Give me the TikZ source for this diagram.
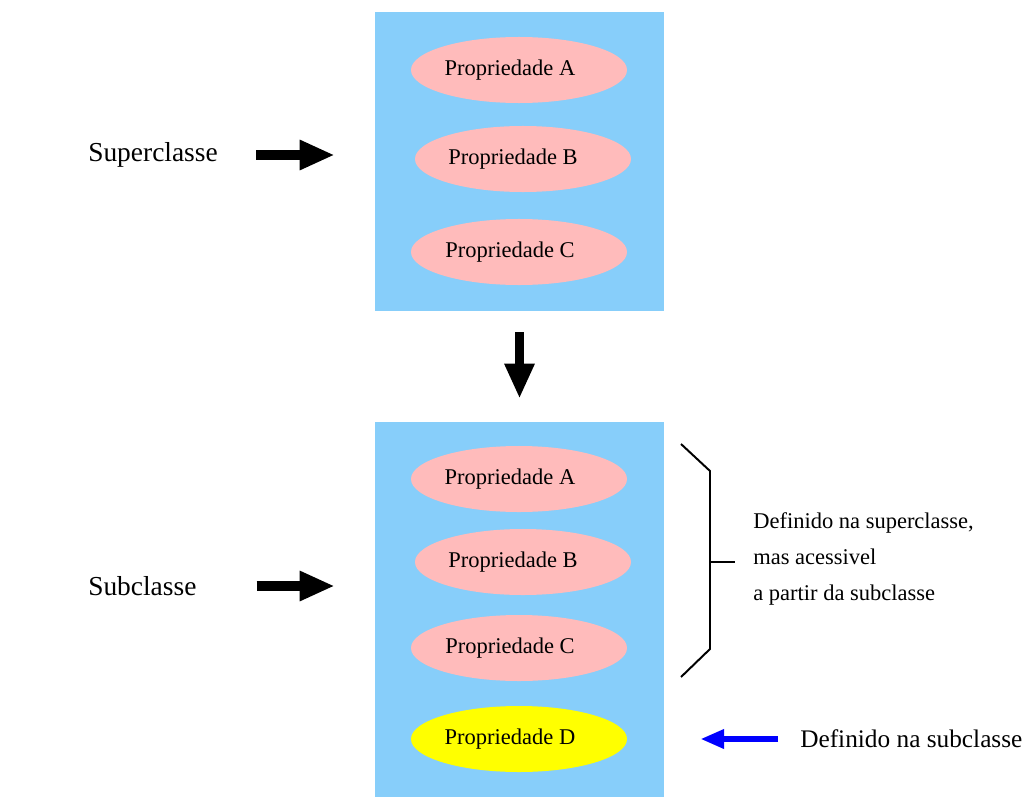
\documentclass[tikz,border=0pt]{standalone}
\usepackage{fontspec}
\setmainfont{Liberation Serif}
\usetikzlibrary{shapes.geometric,positioning}
\usepgflibrary{arrows.meta}
\definecolor{boxblue}{HTML}{87CEFA}
\definecolor{proppink}{HTML}{FFBBBB}
\definecolor{propyellow}{HTML}{FFFF00}
\tikzset{
    propbase/.style={ellipse,fill=proppink,inner sep=0pt,minimum width=5.4cm,minimum height=1.65cm,
        font=\fontsize{16}{19}\selectfont},
    prop/.style={propbase,execute at end node={\hspace*{0.45cm}}},
    propwide/.style={propbase,execute at end node={\hspace*{0.5cm}}},
    classbox/.style={fill=boxblue,inner sep=0pt,minimum width=7.225cm},
    bigarrow/.style={line width=7.1pt,-{Triangle[length=24.9pt,width=19.9pt]}},
}
\begin{document}
\begin{tikzpicture}[x=0.025cm,y=-0.025cm]
        \useasboundingbox (0,0) rectangle (1033,809);
        %超类
        \node [classbox,minimum height=7.475cm] (topbox) at (519.5,161.5) {};
        \node [prop] (topA) at (519,70) {Propriedade A};
        \node [propwide] (topB) at (523,159) {Propriedade B};
        \node [prop] (topC) at (519,252) {Propriedade C};
        %子类
        \node [classbox,minimum height=9.375cm] (botbox) at (519.5,609.5) {};
        \node [prop] (botA) at (519,479) {Propriedade A};
        \node [propwide] (botB) at (523,562) {Propriedade B};
        \node [prop] (botC) at (519,648) {Propriedade C};
        \node [prop,fill=propyellow] (botD) at (519,739) {Propriedade D};
        %标签
        \node [anchor=west,inner sep=0pt,font=\fontsize{19.5}{23}\selectfont] (suplabel) at (88,155) {Superclasse};
        \node [anchor=west,inner sep=0pt,font=\fontsize{19.5}{23}\selectfont] (sublabel) at (88,586) {Subclasse};
        \node [anchor=west,inner sep=0pt,align=left,font=\fontsize{16}{25.6}\selectfont] (inherit) at (753,559) {Definido na superclasse,\\mas acessivel\\a partir da subclasse};
        \node [anchor=west,inner sep=0pt,font=\fontsize{18}{21}\selectfont] (ownlabel) at (800,739) {Definido na subclasse};
        %箭头
        \draw [bigarrow,shorten <=0.95cm,shorten >=1cm] (suplabel.east) -- (topbox.west |- suplabel.east);
        \draw [bigarrow,shorten <=1.5cm,shorten >=1cm] (sublabel.east) -- (botbox.west |- sublabel.east);
        \draw [bigarrow,shorten <=0.525cm,shorten >=0.575cm] (topbox.south) -- (botbox.north);
        \draw [blue,line width=4.3pt,-{Triangle[length=17pt,width=13pt]},shorten <=0.55cm,shorten >=1.825cm] (ownlabel.west) -- (botD.east);
        %括号
        \coordinate (bracemid) at (710,562);
        \draw [line width=1.4pt] (681,444) -- (710,471) -- (710,649) -- (681,677);
        \draw [line width=1.4pt] (bracemid) -- ++(25,0);
\end{tikzpicture}
\end{document}
